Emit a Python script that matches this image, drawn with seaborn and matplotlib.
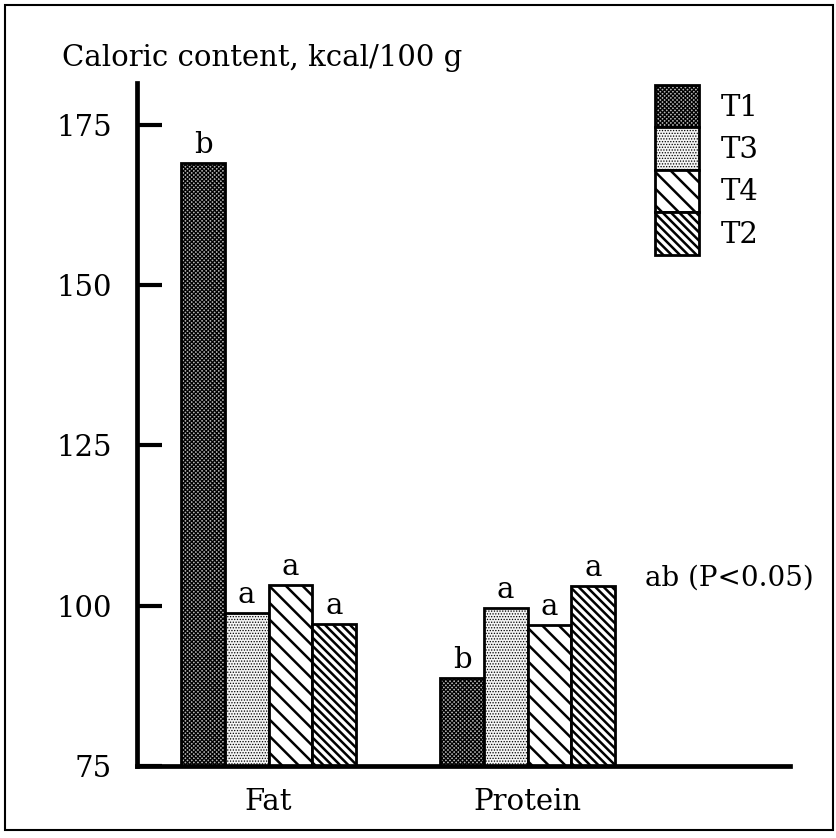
import matplotlib
matplotlib.use("Agg")
import matplotlib.pyplot as plt
import pandas as pd
import seaborn as sns
from matplotlib.patches import Rectangle

# Data
nutrients = ["Fat", "Protein"]
treatments = ["T1", "T3", "T4", "T2"]
fat_kcal = [169.1, 98.9, 103.3, 97.2]
protein_kcal = [88.8, 99.7, 97.0, 103.1]
fat_letters = ["b", "a", "a", "a"]
protein_letters = ["b", "a", "a", "a"]
y_ticks = [75, 100, 125, 150, 175]

df = pd.DataFrame({
    "nutrient": [n for n in nutrients for _ in treatments],
    "treatment": treatments * 2,
    "kcal": fat_kcal + protein_kcal,
})

sns.set_style("white")
plt.rcParams["font.family"] = ["DejaVu Serif"]
plt.rcParams["text.color"] = "black"
plt.rcParams["xtick.color"] = "black"
plt.rcParams["ytick.color"] = "black"
plt.rcParams["hatch.linewidth"] = 1.8
plt.rcParams["hatch.color"] = "black"

fig = plt.figure(figsize=(8.37, 8.38), dpi=100)
ax = fig.add_axes([0.1637, 0.0859, 0.78, 0.815])

faces = {"T1": "#b4b4b4", "T3": "#f4f4f4", "T4": "white", "T2": "white"}
hatches = {"T1": "xxxxxxxx", "T3": "......", "T4": "\\\\", "T2": "\\\\\\\\"}
hatch_lw = {"T1": 0.9, "T3": 0.6, "T4": 1.8, "T2": 1.8}

sns.barplot(data=df, x="nutrient", y="kcal", hue="treatment", hue_order=treatments,
            order=nutrients, palette=faces, width=0.675, edgecolor="black",
            linewidth=2.0, saturation=1, ax=ax, errorbar=None, legend=True)


def style_patch(p, t):
    p.set_hatch(hatches[t])
    p.set_facecolor(faces[t])
    p.set_edgecolor("black")
    if hasattr(p, "set_hatch_linewidth"):
        p.set_hatch_linewidth(hatch_lw[t])


for cont, t in zip(ax.containers, treatments):
    for bar in cont:
        style_patch(bar, t)

letters = {"Fat": fat_letters, "Protein": protein_letters}
for i, t in enumerate(treatments):
    for j, n in enumerate(nutrients):
        bar = ax.containers[i][j]
        ax.annotate(letters[n][i], (bar.get_x() + bar.get_width() / 2, bar.get_height()),
                    xytext=(0, 7), textcoords="offset points", ha="center",
                    va="baseline", fontsize=21)

ax.set_xlim(-0.508, 2.013)
ax.set_ylim(75, 181.5)
ax.set_yticks(y_ticks)
ax.set_xlabel("")
ax.set_ylabel("")
ax.tick_params(axis="y", direction="in", length=18, width=3, pad=18, labelsize=21, left=True)
ax.tick_params(axis="x", length=0, pad=16, labelsize=21)
for s in ["top", "right"]:
    ax.spines[s].set_visible(False)
for s in ["left", "bottom"]:
    ax.spines[s].set_linewidth(3.4)
    ax.spines[s].set_color("black")

handles, labels = ax.get_legend_handles_labels()
for h, t in zip(handles, treatments):
    style_patch(h, t)
leg = ax.legend(handles, labels, loc="upper left", bbox_to_anchor=(655 / 837, 1 - 85 / 838),
                bbox_transform=fig.transFigure, frameon=False, fontsize=21, borderpad=0,
                borderaxespad=0, labelspacing=0, handlelength=1.5, handleheight=1.86,
                handletextpad=0.75)
for h, t in zip(leg.get_patches(), treatments):
    style_patch(h, t)

fig.text(62 / 837, 1 - 58 / 838, "Caloric content, kcal/100 g", fontsize=21,
         ha="left", va="center")
fig.text(645 / 837, 1 - 578 / 838, "ab (P<0.05)", fontsize=20, ha="left", va="center")

fig.patches.append(Rectangle((5 / 837, 8 / 838), 828 / 837, 825 / 838, transform=fig.transFigure,
                             fill=False, edgecolor="black", linewidth=1.5))

fig.savefig("out.png", dpi=100)
